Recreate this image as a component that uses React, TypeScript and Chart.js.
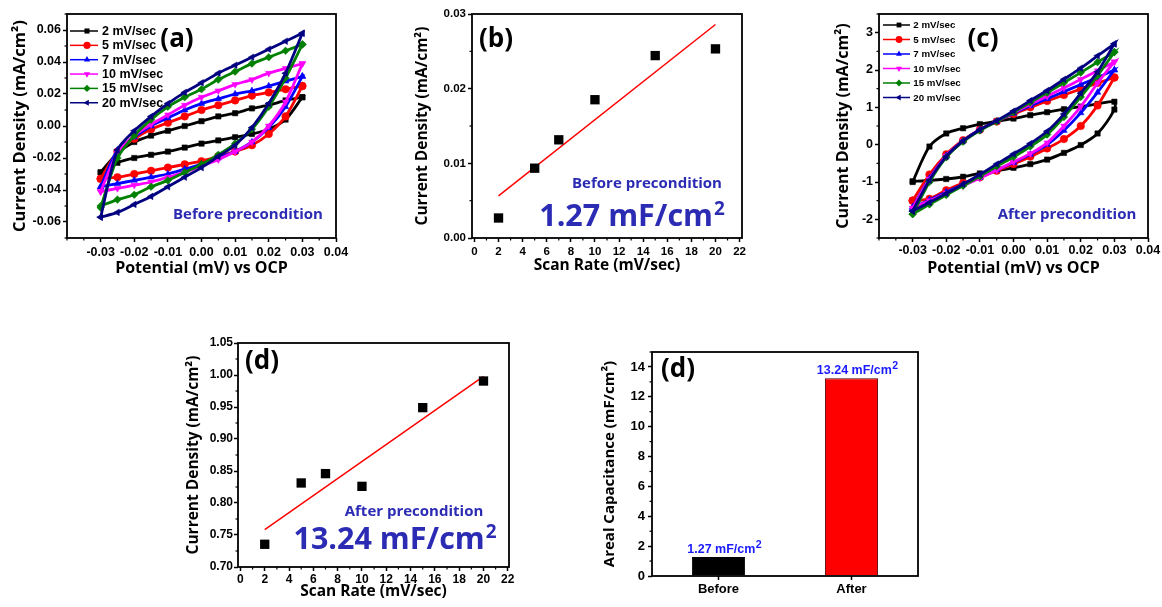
import React, { useEffect, useRef } from 'react';
import { Chart, registerables } from 'chart.js';

Chart.register(...registerables);

const TICK_FAMILY = '"Liberation Sans", Arial, sans-serif';
const TITLE_FAMILY = '"Open Sans", sans-serif';
const ANNOT_BLUE = '#2b2bb4';
const BAR_LABEL_BLUE = '#1a1aff';

// ---------- CV panels (a) and (c) ----------
const CV_X = [-0.03, -0.025, -0.02, -0.015, -0.01, -0.005, 0, 0.005, 0.01, 0.015, 0.02, 0.025, 0.03];
const CV_LABELS = ['2 mV/sec', '5 mV/sec', '7 mV/sec', '10 mV/sec', '15 mV/sec', '20 mV/sec'];
const CV_COLORS = ['#000000', '#ff0000', '#0000ff', '#ff00ff', '#008000', '#000080'];
const CV_MARKERS = ['rect', 'circle', 'triangle', 'triangle', 'rectRot', 'triangle'];
const CV_ROTATIONS = [0, 0, 0, 180, 0, 270];

// (a) before precondition (mA/cm2): forward (upper) and reverse (lower) branches on CV_X
const A_UP_2 = [-0.029, -0.017, -0.010, -0.006, -0.003, 0.000, 0.003, 0.006, 0.008, 0.011, 0.013, 0.016, 0.018];
const A_DN_2 = [-0.029, -0.023, -0.020, -0.018, -0.016, -0.0135, -0.011, -0.009, -0.007, -0.005, -0.002, 0.004, 0.018];
const A_UP_5 = [-0.033, -0.016, -0.008, -0.002, 0.002, 0.006, 0.010, 0.013, 0.016, 0.019, 0.021, 0.023, 0.025];
const A_DN_5 = [-0.033, -0.032, -0.030, -0.028, -0.026, -0.024, -0.022, -0.019, -0.016, -0.012, -0.005, 0.006, 0.025];
const A_UP_7 = [-0.038, -0.015, -0.007, 0.000, 0.005, 0.010, 0.014, 0.017, 0.020, 0.022, 0.025, 0.028, 0.031];
const A_DN_7 = [-0.038, -0.036, -0.034, -0.032, -0.030, -0.027, -0.024, -0.020, -0.016, -0.010, -0.001, 0.012, 0.031];
const A_UP_10 = [-0.041, -0.017, -0.006, 0.001, 0.007, 0.013, 0.018, 0.022, 0.026, 0.029, 0.033, 0.036, 0.039];
const A_DN_10 = [-0.041, -0.039, -0.037, -0.035, -0.032, -0.029, -0.025, -0.021, -0.016, -0.010, 0.000, 0.015, 0.039];
const A_UP_15 = [-0.051, -0.020, -0.006, 0.004, 0.012, 0.018, 0.023, 0.029, 0.034, 0.039, 0.043, 0.047, 0.051];
const A_DN_15 = [-0.050, -0.046, -0.043, -0.038, -0.034, -0.029, -0.024, -0.018, -0.011, -0.002, 0.012, 0.030, 0.051];
const A_UP_20 = [-0.057, -0.015, -0.003, 0.006, 0.014, 0.021, 0.027, 0.033, 0.038, 0.043, 0.048, 0.053, 0.058];
const A_DN_20 = [-0.057, -0.054, -0.049, -0.044, -0.038, -0.032, -0.026, -0.019, -0.012, -0.001, 0.014, 0.033, 0.058];

// (c) after precondition (mA/cm2)
const C_UP_2 = [-1.00, -0.05, 0.30, 0.44, 0.55, 0.63, 0.70, 0.79, 0.87, 0.95, 1.02, 1.09, 1.15];
const C_DN_2 = [-0.98, -0.96, -0.92, -0.86, -0.77, -0.70, -0.62, -0.52, -0.40, -0.22, -0.01, 0.30, 0.94];
const C_UP_5 = [-1.50, -0.80, -0.26, 0.12, 0.40, 0.62, 0.82, 1.00, 1.17, 1.33, 1.49, 1.65, 1.80];
const C_DN_5 = [-1.50, -1.45, -1.22, -1.03, -0.87, -0.70, -0.52, -0.32, -0.10, 0.15, 0.50, 1.05, 1.80];
const C_UP_7 = [-1.68, -0.90, -0.30, 0.10, 0.40, 0.62, 0.84, 1.04, 1.23, 1.42, 1.61, 1.80, 2.00];
const C_DN_7 = [-1.68, -1.48, -1.27, -1.07, -0.88, -0.68, -0.48, -0.26, 0.00, 0.38, 0.85, 1.40, 2.00];
const C_UP_10 = [-1.70, -0.92, -0.30, 0.10, 0.40, 0.63, 0.86, 1.08, 1.30, 1.52, 1.75, 1.98, 2.22];
const C_DN_10 = [-1.70, -1.50, -1.30, -1.10, -0.90, -0.68, -0.46, -0.24, 0.05, 0.50, 1.02, 1.65, 2.22];
const C_UP_15 = [-1.86, -1.00, -0.34, 0.08, 0.38, 0.62, 0.87, 1.13, 1.39, 1.66, 1.93, 2.21, 2.48];
const C_DN_15 = [-1.86, -1.60, -1.35, -1.10, -0.85, -0.58, -0.33, -0.05, 0.27, 0.74, 1.28, 1.85, 2.48];
const C_UP_20 = [-1.78, -0.95, -0.32, 0.10, 0.40, 0.64, 0.90, 1.18, 1.45, 1.75, 2.05, 2.38, 2.70];
const C_DN_20 = [-1.78, -1.55, -1.31, -1.06, -0.80, -0.52, -0.25, 0.03, 0.36, 0.82, 1.38, 1.95, 2.70];

const A_UP = [A_UP_2, A_UP_5, A_UP_7, A_UP_10, A_UP_15, A_UP_20];
const A_DN = [A_DN_2, A_DN_5, A_DN_7, A_DN_10, A_DN_15, A_DN_20];
const C_UP = [C_UP_2, C_UP_5, C_UP_7, C_UP_10, C_UP_15, C_UP_20];
const C_DN = [C_DN_2, C_DN_5, C_DN_7, C_DN_10, C_DN_15, C_DN_20];

const CV_X_TICKS = [-0.03, -0.02, -0.01, 0, 0.01, 0.02, 0.03, 0.04];
const A_Y_TICKS = [-0.06, -0.04, -0.02, 0, 0.02, 0.04, 0.06];
const C_Y_TICKS = [-2, -1, 0, 1, 2, 3];

// ---------- scan-rate panels (b) and (d) ----------
const SCAN_RATE = [2, 5, 7, 10, 15, 20];
const B_CURRENT = [0.00268, 0.00935, 0.01315, 0.01852, 0.02443, 0.02533];
const B_FIT_X = [2, 20];
const B_FIT_Y = [0.00564, 0.02859];
const D_CURRENT = [0.7355, 0.8313, 0.8459, 0.826, 0.949, 0.9906];
const D_FIT_X = [2, 20];
const D_FIT_Y = [0.7584, 0.998];
const RATE_TICKS = [0, 2, 4, 6, 8, 10, 12, 14, 16, 18, 20, 22];
const B_Y_TICKS = [0, 0.01, 0.02, 0.03];
const D_Y_TICKS = [0.7, 0.75, 0.8, 0.85, 0.9, 0.95, 1.0, 1.05];

// ---------- bar panel ----------
const BAR_LABELS = ['Before', 'After'];
const BAR_VALUES = [1.27, 13.24];
const BAR_COLORS = ['#000000', '#ff0000'];
const BAR_Y_TICKS = [0, 2, 4, 6, 8, 10, 12, 14];

// ---------- helpers ----------
function drawMarker(ctx, style, x, y, r, rotDeg, color) {
  ctx.save();
  ctx.fillStyle = color;
  ctx.strokeStyle = color;
  ctx.beginPath();
  if (style === 'rect') {
    const s = r * Math.SQRT1_2;
    ctx.rect(x - s, y - s, 2 * s, 2 * s);
  } else if (style === 'circle') {
    ctx.arc(x, y, r, 0, Math.PI * 2);
  } else if (style === 'rectRot') {
    ctx.moveTo(x, y - r);
    ctx.lineTo(x + r, y);
    ctx.lineTo(x, y + r);
    ctx.lineTo(x - r, y);
    ctx.closePath();
  } else {
    let rad = (rotDeg * Math.PI) / 180;
    for (let k = 0; k < 3; k++) {
      const px = x + Math.sin(rad) * r;
      const py = y - Math.cos(rad) * r;
      if (k === 0) ctx.moveTo(px, py);
      else ctx.lineTo(px, py);
      rad += (2 * Math.PI) / 3;
    }
    ctx.closePath();
  }
  ctx.fill();
  ctx.restore();
}

function drawRich(ctx, it) {
  const weight = it.weight || 'bold';
  const family = it.family || TITLE_FAMILY;
  const main = `${weight} ${it.size}px ${family}`;
  const ss = it.size * (it.supScale || 0.62);
  const supFont = `${weight} ${ss}px ${family}`;
  ctx.save();
  ctx.fillStyle = it.color;
  ctx.textAlign = 'left';
  ctx.textBaseline = it.baseline || 'alphabetic';
  ctx.font = main;
  const w1 = ctx.measureText(it.text).width;
  let w2 = 0;
  const gap = it.size * 0.03;
  if (it.sup) {
    ctx.font = supFont;
    w2 = ctx.measureText(it.sup).width + gap;
  }
  const x0 = it.align === 'left' ? it.x : it.x - (w1 + w2) / 2;
  ctx.font = main;
  ctx.fillText(it.text, x0, it.y);
  if (it.sup) {
    ctx.font = supFont;
    ctx.fillText(it.sup, x0 + w1 + gap, it.y - it.size * (it.supRaise || 0.36));
  }
  ctx.restore();
}

const framePlugin = {
  id: 'frame',
  afterDraw(chart) {
    const { ctx, chartArea: a } = chart;
    ctx.save();
    ctx.strokeStyle = '#000';
    ctx.lineWidth = 1.8;
    ctx.strokeRect(a.left, a.top, a.right - a.left, a.bottom - a.top);
    ctx.restore();
  },
};

function minorTicksPlugin(xStep, yStep) {
  return {
    id: 'minorTicks',
    afterDraw(chart) {
      const { ctx, chartArea: a } = chart;
      ctx.save();
      ctx.strokeStyle = '#000';
      ctx.lineWidth = 1.2;
      const draw = (scale, step, horizontal) => {
        if (!step) return;
        const majors = scale.ticks.map((t) => t.value);
        const start = Math.ceil((scale.min - 1e-9) / step) * step;
        for (let v = start; v <= scale.max + 1e-9; v += step) {
          if (majors.some((m) => Math.abs(m - v) < step * 0.01)) continue;
          const p = scale.getPixelForValue(v);
          ctx.beginPath();
          if (horizontal) {
            ctx.moveTo(p, a.bottom);
            ctx.lineTo(p, a.bottom + 2.5);
          } else {
            ctx.moveTo(a.left, p);
            ctx.lineTo(a.left - 2.5, p);
          }
          ctx.stroke();
        }
      };
      if (chart.scales.x.type === 'linear') draw(chart.scales.x, xStep, true);
      draw(chart.scales.y, yStep, false);
      ctx.restore();
    },
  };
}

function textsPlugin(items) {
  return {
    id: 'texts',
    afterDraw(chart) {
      items.forEach((it) => drawRich(chart.ctx, it));
    },
  };
}

function cvLegendPlugin(o) {
  return {
    id: 'cvLegend',
    afterDraw(chart) {
      const { ctx, chartArea: a } = chart;
      CV_LABELS.forEach((lab, i) => {
        const y = a.top + o.y0 + i * o.dy;
        ctx.save();
        ctx.strokeStyle = CV_COLORS[i];
        ctx.lineWidth = 1.5;
        ctx.beginPath();
        ctx.moveTo(a.left + o.l1, y);
        ctx.lineTo(a.left + o.l2, y);
        ctx.stroke();
        drawMarker(ctx, CV_MARKERS[i], a.left + o.m, y, o.r, CV_ROTATIONS[i], CV_COLORS[i]);
        ctx.fillStyle = '#000';
        ctx.font = `bold ${o.size}px ${TICK_FAMILY}`;
        ctx.textBaseline = 'middle';
        ctx.textAlign = 'left';
        ctx.fillText(lab, a.left + o.tx, y + 0.5);
        ctx.restore();
      });
    },
  };
}

function linAxis(o) {
  return {
    type: 'linear',
    position: o.position,
    min: o.min,
    max: o.max,
    afterBuildTicks: (s) => {
      s.ticks = o.ticks.map((v) => ({ value: v }));
    },
    afterFit: (s) => {
      if (o.position === 'left') s.width = o.size;
      else s.height = o.size;
    },
    ticks: {
      callback: (v) => o.fmt(Number(v)),
      font: { family: TICK_FAMILY, weight: 'bold', size: o.tickSize },
      color: '#000',
      padding: o.tickPad,
      autoSkip: false,
      maxRotation: 0,
    },
    grid: { display: true, drawOnChartArea: false, drawTicks: true, tickLength: 4, tickWidth: 1.5, tickColor: '#000' },
    border: { display: false },
    title: {
      display: !!o.title,
      text: o.title,
      font: { family: TITLE_FAMILY, weight: 'bold', size: o.titleSize },
      color: '#000',
      padding: o.position === 'left' ? { top: o.titlePad, bottom: 0 } : { top: 0, bottom: o.titlePad },
    },
  };
}

const fix2 = (v) => v.toFixed(2);
const intFmt = (v) => String(Math.round(v));

function baseOptions(padding) {
  return {
    responsive: false,
    animation: false,
    events: [],
    layout: { padding },
    plugins: { legend: { display: false }, tooltip: { enabled: false } },
  };
}

function cvConfig(up, dn, yMin, yMax, yTicks, yFmt, yStep, o) {
  const datasets = CV_LABELS.map((lab, i) => {
    const fwd = CV_X.map((x, k) => ({ x, y: up[i][k] }));
    const rev = CV_X.map((x, k) => ({ x, y: dn[i][k] })).reverse();
    return {
      label: lab,
      data: fwd.concat(rev),
      showLine: true,
      borderColor: CV_COLORS[i],
      borderWidth: 2.8,
      backgroundColor: CV_COLORS[i],
      pointBackgroundColor: CV_COLORS[i],
      pointBorderColor: CV_COLORS[i],
      pointBorderWidth: 0.5,
      pointStyle: CV_MARKERS[i],
      pointRotation: CV_ROTATIONS[i],
      pointRadius: 3.8,
      tension: 0.28,
      order: CV_LABELS.length - i,
    };
  });
  return {
    type: 'scatter',
    data: { datasets },
    options: {
      ...baseOptions(o.padding),
      scales: {
        x: linAxis({
          position: 'bottom', min: -0.04, max: 0.04, ticks: CV_X_TICKS, fmt: fix2, size: 52,
          tickSize: 12.5, tickPad: o.xTickPad, title: 'Potential (mV) vs OCP', titleSize: 16, titlePad: o.xTitlePad,
        }),
        y: linAxis({
          position: 'left', min: yMin, max: yMax, ticks: yTicks, fmt: yFmt, size: o.yWidth,
          tickSize: 12.5, tickPad: 2, title: 'Current Density (mA/cm²)', titleSize: o.yTitleSize, titlePad: o.yTitlePad,
        }),
      },
    },
    plugins: [framePlugin, minorTicksPlugin(0.005, yStep), cvLegendPlugin(o.legend), textsPlugin(o.texts)],
  };
}

function rateConfig(values, fitX, fitY, yMin, yMax, yTicks, yStep, o) {
  return {
    type: 'scatter',
    data: {
      datasets: [
        {
          data: SCAN_RATE.map((x, i) => ({ x, y: values[i] })),
          pointStyle: 'rect',
          pointRadius: 6.6,
          pointBackgroundColor: '#000',
          pointBorderColor: '#000',
          pointBorderWidth: 0,
          showLine: false,
          order: 0,
        },
        {
          data: fitX.map((x, i) => ({ x, y: fitY[i] })),
          showLine: true,
          borderColor: '#ff0000',
          borderWidth: 1.5,
          pointRadius: 0,
          order: 1,
        },
      ],
    },
    options: {
      ...baseOptions(o.padding),
      scales: {
        x: linAxis({
          position: 'bottom', min: -0.2, max: o.xMax, ticks: RATE_TICKS, fmt: intFmt, size: o.xHeight,
          tickSize: o.tickSize, tickPad: o.xTickPad, title: 'Scan Rate (mV/sec)', titleSize: o.titleSize, titlePad: o.xTitlePad,
        }),
        y: linAxis({
          position: 'left', min: yMin, max: yMax, ticks: yTicks, fmt: fix2, size: o.yWidth,
          tickSize: o.tickSize, tickPad: o.yTickPad, title: 'Current Density (mA/cm²)', titleSize: o.titleSize, titlePad: o.yTitlePad,
        }),
      },
    },
    plugins: [framePlugin, minorTicksPlugin(1, yStep), textsPlugin(o.texts)],
  };
}

const barLabelPlugin = {
  id: 'barLabels',
  afterDraw(chart) {
    const meta = chart.getDatasetMeta(0);
    meta.data.forEach((el, i) => {
      drawRich(chart.ctx, {
        x: el.x + 6, y: el.y - 4, text: `${BAR_VALUES[i].toFixed(2)} mF/cm`, sup: '2',
        size: 12.5, family: TICK_FAMILY, color: BAR_LABEL_BLUE, supScale: 0.85, supRaise: 0.42,
      });
    });
  },
};

function barConfig() {
  return {
    type: 'bar',
    data: {
      labels: BAR_LABELS,
      datasets: [
        {
          data: BAR_VALUES,
          backgroundColor: BAR_COLORS,
          borderColor: ['#000000', '#4a0000'],
          borderWidth: 1,
          barPercentage: 0.4,
          categoryPercentage: 1.0,
        },
      ],
    },
    options: {
      ...baseOptions({ left: 0, top: 32, right: 22, bottom: 0 }),
      scales: {
        x: {
          type: 'category',
          position: 'bottom',
          afterFit: (s) => { s.height = 31; },
          ticks: { font: { family: TICK_FAMILY, weight: 'bold', size: 13 }, color: '#000', padding: 2, maxRotation: 0 },
          grid: { display: true, offset: false, drawOnChartArea: false, drawTicks: true, tickLength: 4, tickWidth: 1.5, tickColor: '#000' },
          border: { display: false },
        },
        y: linAxis({
          position: 'left', min: 0, max: 15, ticks: BAR_Y_TICKS, fmt: intFmt, size: 82,
          tickSize: 13, tickPad: 3, title: 'Areal Capacitance (mF/cm²)', titleSize: 15, titlePad: 30.5,
        }),
      },
    },
    plugins: [framePlugin, minorTicksPlugin(0, 1), barLabelPlugin,
      textsPlugin([{ x: 108, y: 50, text: '(d)', size: 26, color: '#000', baseline: 'middle' }])],
  };
}

function Panel({ left, top, width, height, make }) {
  const ref = useRef(null);
  useEffect(() => {
    const chart = new Chart(ref.current, make());
    return () => chart.destroy();
  }, []);
  return (
    <canvas
      ref={ref}
      width={width}
      height={height}
      style={{ position: 'absolute', left, top, width, height, display: 'block' }}
    />
  );
}

export default function App() {
  const makeA = () =>
    cvConfig(A_UP, A_DN, -0.07, 0.07, A_Y_TICKS, fix2, 0.01, {
      padding: { left: 0, top: 14, right: 34, bottom: 0 },
      yWidth: 67, yTitleSize: 16.5, yTitlePad: 10, xTickPad: 3, xTitlePad: 12.4,
      legend: { y0: 17, dy: 14.35, l1: 3, l2: 31, m: 20, r: 3.6, tx: 35, size: 12.5 },
      texts: [
        { x: 177, y: 40, text: '(a)', size: 26, color: '#000', baseline: 'middle' },
        { x: 248, y: 215, text: 'Before precondition', size: 15, color: ANNOT_BLUE, baseline: 'middle' },
      ],
    });
  const makeC = () =>
    cvConfig(C_UP, C_DN, -2.5, 3.5, C_Y_TICKS, intFmt, 0.5, {
      padding: { left: 0, top: 14, right: 14, bottom: 0 },
      yWidth: 89, yTitleSize: 16, yTitlePad: 43.4, xTickPad: 1, xTitlePad: 12.4,
      legend: { y0: 11, dy: 14.5, l1: 4, l2: 31, m: 20, r: 3.4, tx: 34.3, size: 9.7 },
      texts: [
        { x: 193, y: 40, text: '(c)', size: 26, color: '#000', baseline: 'middle' },
        { x: 277, y: 215, text: 'After precondition', size: 15, color: ANNOT_BLUE, baseline: 'middle' },
      ],
    });
  const makeB = () =>
    rateConfig(B_CURRENT, B_FIT_X, B_FIT_Y, 0, 0.03, B_Y_TICKS, 0.005, {
      padding: { left: 0, top: 14, right: 18, bottom: 0 },
      xMax: 22.2, xHeight: 52, yWidth: 92, tickSize: 11.5, xTickPad: 3, yTickPad: 2,
      titleSize: 15.5, xTitlePad: 14.7, yTitlePad: 33.2,
      texts: [
        { x: 116, y: 40, text: '(b)', size: 26, color: '#000', baseline: 'middle' },
        { x: 267, y: 184, text: 'Before precondition', size: 15, color: ANNOT_BLUE, baseline: 'middle' },
        { x: 252, y: 226, text: '1.27 mF/cm', sup: '2', size: 30.5, color: ANNOT_BLUE },
      ],
    });
  const makeD = () =>
    rateConfig(D_CURRENT, D_FIT_X, D_FIT_Y, 0.7, 1.05, D_Y_TICKS, 0.025, {
      padding: { left: 0, top: 23, right: 21, bottom: 0 },
      xMax: 22.1, xHeight: 40, yWidth: 78, tickSize: 12, xTickPad: 1, yTickPad: 1,
      titleSize: 15.5, xTitlePad: 5.7, yTitlePad: 24.2,
      texts: [
        { x: 102, y: 42, text: '(d)', size: 26, color: '#000', baseline: 'middle' },
        { x: 254, y: 192, text: 'After precondition', size: 15, color: ANNOT_BLUE, baseline: 'middle' },
        { x: 235, y: 229, text: '13.24 mF/cm', sup: '2', size: 30.5, color: ANNOT_BLUE },
      ],
    });

  return (
    <div style={{ position: 'absolute', left: 0, top: 0, width: 1162, height: 607, background: '#fff', overflow: 'hidden' }}>
      <Panel left={0} top={0} width={370} height={290} make={makeA} />
      <Panel left={380} top={0} width={380} height={290} make={makeB} />
      <Panel left={790} top={0} width={372} height={290} make={makeC} />
      <Panel left={160} top={320} width={370} height={287} make={makeD} />
      <Panel left={570} top={320} width={370} height={287} make={barConfig} />
    </div>
  );
}
